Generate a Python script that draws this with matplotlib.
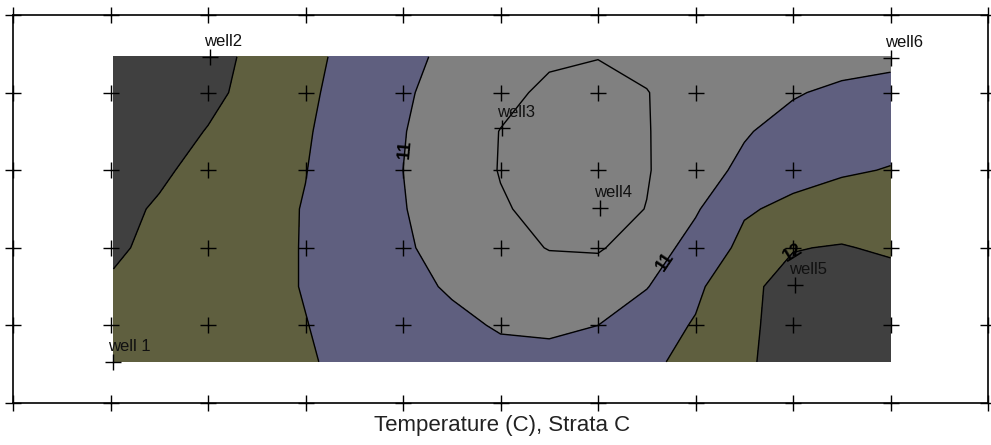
import numpy as np
import matplotlib.pyplot as plt

plt.rcParams['font.family'] = ['Liberation Sans', 'DejaVu Sans']

# grid of estimated temperature values (rows bottom -> top)
xs = [1.03, 1.5, 2.0, 2.5, 3.0, 3.5, 4.0, 4.5, 5.0, 5.5, 6.0, 6.5, 7.0, 7.5, 8.0, 8.5, 9.0]
ys = [0.53, 1.0, 1.5, 2.0, 2.5, 3.0, 3.5, 4.0, 4.46]
temp = [
    [11.82, 11.75, 11.68, 11.60, 11.53, 11.42, 11.30, 11.20, 11.13, 11.12, 11.20, 11.40, 11.65, 11.93, 12.20, 12.35, 12.45],
    [11.88, 11.80, 11.72, 11.62, 11.51, 11.37, 11.24, 11.10, 10.96, 10.93, 11.00, 11.27, 11.54, 11.90, 12.20, 12.35, 12.40],
    [11.95, 11.85, 11.75, 11.62, 11.48, 11.31, 11.13, 10.95, 10.82, 10.76, 10.80, 10.98, 11.40, 11.90, 12.15, 12.25, 12.20],
    [12.06, 11.90, 11.76, 11.62, 11.48, 11.26, 11.05, 10.86, 10.67, 10.48, 10.45, 10.76, 11.17, 11.62, 11.98, 12.03, 11.93],
    [12.10, 11.96, 11.80, 11.64, 11.48, 11.24, 11.02, 10.78, 10.54, 10.38, 10.33, 10.51, 10.95, 11.45, 11.60, 11.72, 11.80],
    [12.23, 12.06, 11.88, 11.69, 11.51, 11.26, 11.00, 10.76, 10.48, 10.32, 10.28, 10.47, 10.80, 11.10, 11.35, 11.45, 11.52],
    [12.40, 12.19, 11.98, 11.76, 11.54, 11.28, 11.02, 10.75, 10.49, 10.35, 10.30, 10.48, 10.72, 10.96, 11.17, 11.27, 11.35],
    [12.62, 12.37, 12.11, 11.85, 11.58, 11.32, 11.06, 10.82, 10.61, 10.42, 10.38, 10.49, 10.66, 10.81, 10.96, 11.10, 11.20],
    [12.68, 12.43, 12.16, 11.89, 11.62, 11.36, 11.10, 10.91, 10.77, 10.56, 10.51, 10.58, 10.64, 10.70, 10.75, 10.80, 10.85],
]

wells = ['well 1', 'well2', 'well3', 'well4', 'well5', 'well6']
well_x = [1.03, 2.02, 5.02, 6.02, 8.02, 9.0]
well_y = [0.53, 4.46, 3.54, 2.51, 1.52, 4.45]

levels = [9.5, 10.5, 11, 11.5, 12, 13.5]
fill_colors = ['#808080', '#808080', '#5f5f7f', '#5f5f3f', '#404040']
plain_levels = [10.5, 11.5]
labelled_levels = [11, 12]
label_pos = [(4.07, 3.26), (6.69, 1.82), (7.97, 1.97)]

grid_x = range(0, 11)
grid_y = range(0, 6)

fig = plt.figure(figsize=(9.91, 4.45), dpi=100)
ax = fig.add_axes([13 / 991, 42 / 445, 975 / 991, 388 / 445])

X, Y = np.meshgrid(xs, ys)
Z = np.array(temp)
ax.contourf(X, Y, Z, levels=levels, colors=fill_colors)
ax.contour(X, Y, Z, levels=plain_levels, colors='black', linewidths=1.0)
cs = ax.contour(X, Y, Z, levels=labelled_levels, colors='black', linewidths=1.0)
labels = ax.clabel(cs, manual=label_pos, fmt='%d', fontsize=13,
                   inline=False, colors='black')
for t in labels:
    t.set_fontweight('bold')

# grid crosses
gx, gy = np.meshgrid(grid_x, grid_y)
ax.plot(gx.ravel(), gy.ravel(), '+', color='black', markersize=12,
        markeredgewidth=1.0, clip_on=False, zorder=5)

# wells
ax.plot(well_x, well_y, '+', color='black', markersize=12,
        markeredgewidth=1.0, zorder=5)
for name, x, y in zip(wells, well_x, well_y):
    ax.annotate(name, (x, y), xytext=(-4, 8), textcoords='offset points',
                ha='left', va='baseline', fontsize=12, color='#111111', zorder=6)

ax.set_xlim(0, 10)
ax.set_ylim(0, 5)
ax.set_xticks([])
ax.set_yticks([])
for s in ax.spines.values():
    s.set_linewidth(1.2)

fig.text(502 / 991, 1 - 426 / 445, 'Temperature (C), Strata C',
         ha='center', va='center', fontsize=16, color='#222222')

fig.savefig('out.png', dpi=100)
